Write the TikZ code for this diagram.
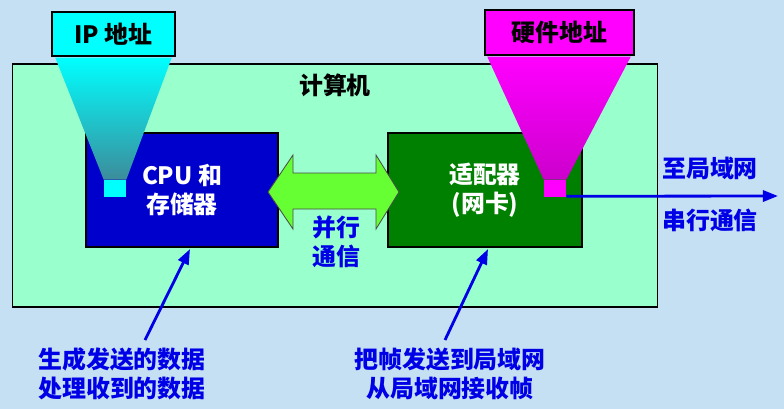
\documentclass[tikz,border=0pt]{standalone}
\usepackage{fontspec}
\setmainfont{Noto Sans CJK SC}
\usepackage{tikz}
\usetikzlibrary{arrows.meta,calc}

\definecolor{bgblue}{RGB}{197,223,243}
\definecolor{mint}{RGB}{153,255,204}
\definecolor{cpublue}{RGB}{0,0,204}
\definecolor{nicgreen}{RGB}{0,128,0}
\definecolor{busgreen}{RGB}{102,255,51}
\definecolor{txtblue}{RGB}{0,0,230}
\definecolor{ipcyan}{RGB}{0,255,255}
\definecolor{macpink}{RGB}{255,0,255}
\definecolor{coneteal}{RGB}{60,140,155}
\definecolor{conepink}{RGB}{204,0,204}

\begin{document}
\begin{tikzpicture}[
x=0.025cm, y=-0.025cm,
% Style for the text
label font/.style={font=\fontsize{17}{21}\selectfont\bfseries, align=center},
% Style for the two inner boxes
part box/.style={
draw=black,
line width=1.5pt,
minimum width=4.8cm,
minimum height=2.85cm,
text=white,
label font
},
% Style for the address tags
tag box/.style={
draw=black,
line width=1pt,
minimum height=1.1cm,
label font
},
% Style for the small ports
port/.style={
minimum width=0.55cm,
minimum height=0.425cm,
inner sep=0pt
},
% Style for the blue arrows
blue arrow/.style={
draw=txtblue,
line width=2pt,
-{Triangle[length=0.38cm,width=0.28cm]}
},
blue text/.style={text=txtblue, label font}
]

% background and margins
\fill[bgblue] (0,0) rectangle (784,409);
\useasboundingbox (0,0) rectangle (784,409);

% the computer
\node[draw=black, line width=0.8pt, fill=mint,
minimum width=16.1cm, minimum height=6.075cm] (pc) at (335,185.5) {};
\node[label font] (pcname) at (335,85) {计算机};

% CPU and adapter
\node[part box, fill=cpublue] (cpu) at (182,190) {CPU 和\\存储器};
\node[part box, fill=nicgreen, minimum width=4.85cm] (nic) at (485,190) {适配器\\(网卡)};

% parallel bus between them
\draw[black!70, fill=busgreen, line width=0.6pt]
(268,192) -- (293,155) -- (293,173) -- (376,173) -- (376,155) -- (399,192)
-- (376,229) -- (376,209) -- (293,209) -- (293,229) -- cycle;
\node[blue text] (bus) at (336,242) {并行\\通信};

% address tags
\node[tag box, fill=ipcyan, minimum width=3.075cm] (ip) at (113.5,34) {IP 地址};
\node[tag box, fill=macpink, minimum width=3.725cm, minimum height=1.125cm] (mac) at (559.5,32.5) {硬件地址};
\node[port, fill=ipcyan] (ipport) at (115,188.5) {};
\node[port, fill=macpink] (macport) at (555,188.5) {};

% cones from tags to ports
\shade[top color=ipcyan, bottom color=coneteal]
($(ip.south west)+(4,1)$) -- ($(ip.south east)+(-4,1)$)
-- (ipport.north east) -- (ipport.north west) -- cycle;
\shade[top color=macpink, bottom color=conepink]
($(mac.south west)+(3,1)$) -- ($(mac.south east)+(-4,1)$)
-- (macport.north east) -- (macport.north west) -- cycle;

% serial link out of the adapter
\coordinate (lan) at (778,196);
\draw[blue arrow, line width=2pt] ($(macport.south east)+(0,-1)$) -- (lan);
\node[blue text] (to lan) at (710,168) {至局域网};
\node[blue text] (serial) at (710,220) {串行通信};

% what each part does
\node[blue text] (cpujob) at (122,374) {生成发送的数据\\处理收到的数据};
\node[blue text] (nicjob) at (450,374) {把帧发送到局域网\\从局域网接收帧};
\coordinate (cputail) at (145,340);
\coordinate (nictail) at (445,340);
\draw[blue arrow] (cputail) -- ($(cpu.south)+(8,1)$);
\draw[blue arrow] (nictail) -- ($(nic.south)+(3,1)$);

\end{tikzpicture}
\end{document}
